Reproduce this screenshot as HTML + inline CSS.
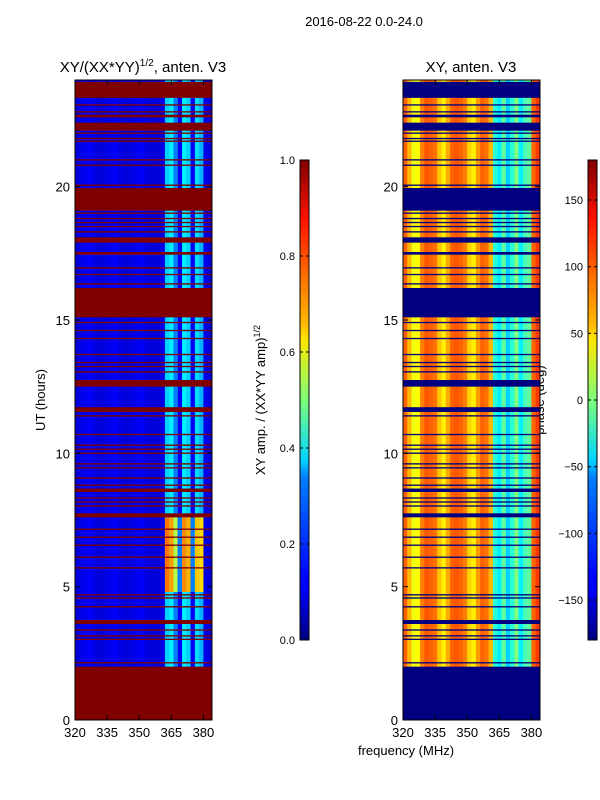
<!DOCTYPE html>
<html><head><meta charset="utf-8"><style>
body{margin:0;background:#fff}
svg{display:block;font-family:"Liberation Sans",sans-serif}
</style></head><body>
<svg id="fig" width="600" height="800" xmlns="http://www.w3.org/2000/svg">
<defs>
<linearGradient id="jet" x1="0" y1="1" x2="0" y2="0">
<stop offset="0" stop-color="#000080"/><stop offset="0.11" stop-color="#0000ff"/><stop offset="0.125" stop-color="#0000ff"/>
<stop offset="0.34" stop-color="#0080ff"/><stop offset="0.375" stop-color="#00d4ff"/><stop offset="0.5" stop-color="#7dff7a"/>
<stop offset="0.625" stop-color="#ffe600"/><stop offset="0.66" stop-color="#ffb900"/><stop offset="0.875" stop-color="#ff1300"/><stop offset="1" stop-color="#800000"/>
</linearGradient>
</defs>
<text x="364" y="26" font-size="13" text-anchor="middle">2016-08-22 0.0-24.0</text>
<text x="143" y="72" font-size="15" text-anchor="middle">XY/(XX*YY)<tspan font-size="10" dy="-6">1/2</tspan><tspan dy="6">, anten. V3</tspan></text>
<text x="471" y="72" font-size="15" text-anchor="middle">XY, anten. V3</text>
<text transform="translate(45,400) rotate(-90)" font-size="13" text-anchor="middle">UT (hours)</text>
<text x="406" y="755" font-size="13" text-anchor="middle">frequency (MHz)</text>
<text transform="translate(265,400) rotate(-90)" font-size="13" text-anchor="middle">XY amp. / (XX*YY amp)<tspan font-size="9" dy="-5">1/2</tspan></text>
<text transform="translate(544,400) rotate(-90)" font-size="13" text-anchor="middle">phase (deg)</text>
<g id="left"></g>
<g id="right"></g>
<g id="axes"></g>
</svg>
<script>
const freqs=[320,322,324,326,328,330,332,334,336,338,340,342,344,346,348,350,352,354,356,358,360,362,364,366,368,370,372,374,376,378,380,382];
const ampBase=[0.09,0.1,0.11,0.12,0.1,0.09,0.09,0.1,0.11,0.12,0.1,0.09,0.09,0.1,0.11,0.12,0.1,0.09,0.09,0.09,0.1,0.33,0.36,0.25,0.12,0.36,0.33,0.12,0.34,0.3,0.1,0.09];
const ampHot=[0,0,0,0,0,0,0,0,0,0,0,0,0,0,0,0,0,0,0,0,0,0.76,0.72,0.55,0.25,0.74,0.7,0.25,0.68,0.66,0,0];
const hotHours=[4.8,7.6];
const phaseBase=[100,70,40,45,90,105,100,95,65,50,75,100,105,100,90,60,50,80,100,95,70,-30,-50,-10,-60,-30,0,-50,-20,-10,100,115];
const flagged=[[0,2.0],[2.12,2.17],[3.0,3.05],[3.13,3.18],[3.35,3.4],[3.6,3.75],[4.22,4.27],[4.55,4.6],[4.67,4.72],[5.68,5.73],[6.08,6.13],[6.53,6.58],[6.83,6.88],[7.13,7.18],[7.6,7.75],[8.0,8.05],[8.15,8.2],[8.3,8.35],[8.55,8.68],[8.78,8.83],[9.05,9.1],[9.43,9.48],[9.58,9.63],[9.98,10.03],[10.13,10.18],[10.28,10.33],[10.68,10.73],[11.38,11.43],[11.55,11.73],[12.5,12.75],[13.03,13.08],[13.23,13.28],[13.38,13.43],[13.68,13.73],[14.28,14.33],[14.58,14.63],[14.88,14.93],[15.1,16.2],[16.33,16.38],[16.68,16.73],[16.93,16.98],[17.45,17.55],[17.9,18.1],[18.28,18.33],[18.48,18.53],[18.63,18.68],[18.78,18.83],[18.98,19.03],[19.1,19.95],[20.03,20.08],[20.78,20.83],[20.98,21.03],[21.68,21.73],[21.78,21.83],[21.98,22.03],[22.1,22.4],[22.6,22.7],[22.78,22.83],[23.04,23.09],[23.33,23.93]];
const yTicks=[0,5,10,15,20];
const xTicks=[320,335,350,365,380];
const ampTicks=[0.0,0.2,0.4,0.6,0.8,1.0];
const phaseTicks=[-150,-100,-50,0,50,100,150];

const NS="http://www.w3.org/2000/svg";
function jet(v){v=Math.max(0,Math.min(1,v));
 const f=(x)=>Math.max(0,Math.min(1,x));
 const r=f(Math.min(4*v-1.5,-4*v+4.5)),g=f(Math.min(4*v-0.5,-4*v+3.5)),b=f(Math.min(4*v+0.5,-4*v+2.5));
 return `rgb(${Math.round(r*255)},${Math.round(g*255)},${Math.round(b*255)})`;}
function mk(p,tag,at){const e=document.createElementNS(NS,tag);for(const k in at)e.setAttribute(k,at[k]);p.appendChild(e);return e;}
const X0L=75,X0R=403,PW=137,Y0=720,Y1=80;
const xs=(f,x0)=>x0+(f-320)*PW/64;
const ys=h=>Y0-h*(Y0-Y1)/24;
const L=document.getElementById('left'),R=document.getElementById('right'),A=document.getElementById('axes');
freqs.forEach((f,i)=>{
 const x=xs(f,X0L),w=xs(f+2,X0L)-x;
 let r=mk(L,'rect',{x:x,y:Y1,width:w+0.3,height:Y0-Y1,fill:jet(ampBase[i])});
 
 
 if(ampHot[i]>0){
  let h=mk(L,'rect',{x:x,y:ys(hotHours[1]),width:w+0.3,height:ys(hotHours[0])-ys(hotHours[1]),fill:jet(ampHot[i])});
  
  
 }
 const xr=xs(f,X0R);
 let p=mk(R,'rect',{x:xr,y:Y1,width:w+0.3,height:Y0-Y1,fill:jet((phaseBase[i]+180)/360)});
 
 
});
flagged.forEach(([a,b])=>{
 let r=mk(L,'rect',{x:X0L,y:ys(b),width:PW,height:ys(a)-ys(b),fill:'#800000'});
 
 
 let q=mk(R,'rect',{x:X0R,y:ys(b),width:PW,height:ys(a)-ys(b),fill:'#000080'});
 
 
});
[X0L,X0R].forEach((x0,k)=>{
 let fr=mk(A,'rect',{x:x0,y:Y1,width:PW,height:Y0-Y1,fill:'none',stroke:'#000','stroke-width':1});
 
 
 yTicks.forEach(t=>{const y=ys(t);
  mk(A,'line',{x1:x0,x2:x0+5,y1:y,y2:y,stroke:'#000'});mk(A,'line',{x1:x0+PW-5,x2:x0+PW,y1:y,y2:y,stroke:'#000'});
  let tx=mk(A,'text',{x:x0-5,y:y+5,'font-size':13,'text-anchor':'end'});tx.textContent=t;
  
  });
 xTicks.forEach(t=>{const x=xs(t,x0);
  mk(A,'line',{x1:x,x2:x,y1:Y0,y2:Y0-5,stroke:'#000'});mk(A,'line',{x1:x,x2:x,y1:Y1,y2:Y1+5,stroke:'#000'});
  let tx=mk(A,'text',{x:x,y:737,'font-size':13,'text-anchor':'middle'});tx.textContent=t;
  
  });
});
[[300,ampTicks,v=>(v),v=>v.toFixed(1),'amp-colorbar'],[588,phaseTicks,v=>(v+180)/360,v=>v<0?'\u2212'+(-v):String(v),'phase-colorbar']].forEach(([x0,ticks,norm,fmt,nm])=>{
 let cb=mk(A,'rect',{x:x0,y:160,width:9,height:480,fill:'url(#jet)',stroke:'#000','stroke-width':1});
 
 
 ticks.forEach(t=>{const y=640-norm(t)*480;
  mk(A,'line',{x1:x0,x2:x0+3,y1:y,y2:y,stroke:'#000'});mk(A,'line',{x1:x0+6,x2:x0+9,y1:y,y2:y,stroke:'#000'});
  let tx=mk(A,'text',{x:x0-5,y:y+4,'font-size':11,'text-anchor':'end'});tx.textContent=fmt(t);
  
  });
});
</script>
</body></html>
